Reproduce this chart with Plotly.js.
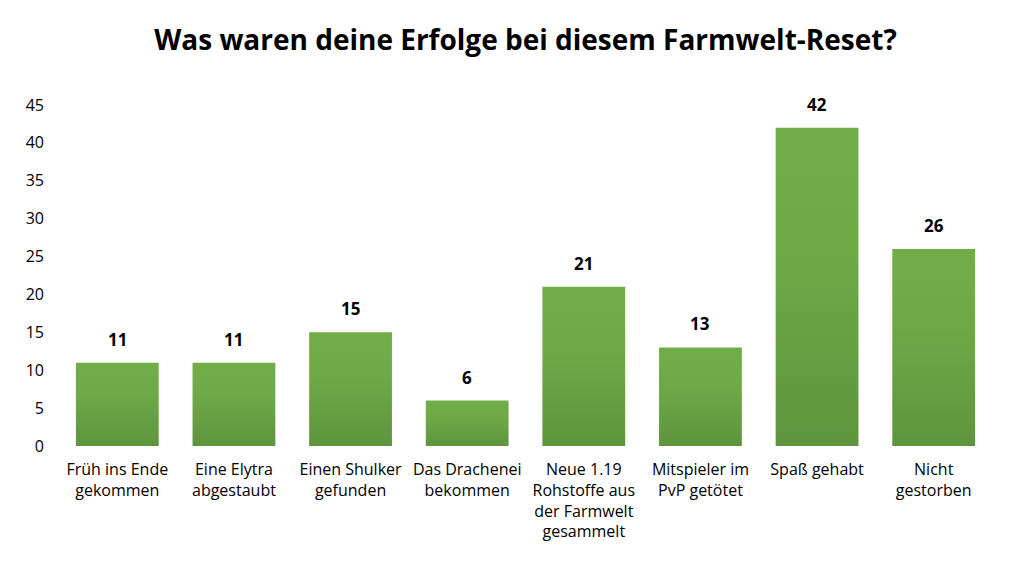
<!DOCTYPE html>
<html>
<head>
<meta charset="utf-8">
<script src="https://cdn.plot.ly/plotly-3.0.1.min.js"></script>
<style>html,body{margin:0;padding:0;background:#fff;}#chart{width:1016px;height:567px;}</style>
</head>
<body>
<div id="chart"></div>
<script>
const categories = [
  "Früh ins Ende<br>gekommen",
  "Eine Elytra<br>abgestaubt",
  "Einen Shulker<br>gefunden",
  "Das Drachenei<br>bekommen",
  "Neue 1.19<br>Rohstoffe aus<br>der Farmwelt<br>gesammelt",
  "Mitspieler im<br>PvP getötet",
  "Spaß gehabt",
  "Nicht<br>gestorben"
];
const values = [11, 11, 15, 6, 21, 13, 42, 26];
const yTicks = [0, 5, 10, 15, 20, 25, 30, 35, 40, 45];

const FONT = "Open Sans, Liberation Sans, sans-serif";

const trace = {
  type: "bar",
  x: categories,
  y: values,
  marker: {color: "#67A042", line: {width: 0}},
  hoverinfo: "skip"
};

const annotations = categories.map((c, i) => ({
  x: c, y: values[i], xref: "x", yref: "y",
  text: "<b>" + values[i] + "</b>",
  showarrow: false, yanchor: "bottom", yshift: 10,
  font: {family: FONT, size: 17, color: "#000"}
}));

const layout = {
  width: 1016, height: 567,
  paper_bgcolor: "#fff", plot_bgcolor: "#fff",
  margin: {l: 59, r: 24, t: 105, b: 121},
  bargap: 0.29,
  showlegend: false,
  title: {
    text: "<b>Was waren deine Erfolge bei diesem Farmwelt-Reset?</b>",
    font: {family: FONT, size: 28, color: "#000"},
    x: 0.5, xanchor: "center", xref: "paper",
    y: 1 - 40/567, yanchor: "middle", yref: "container"
  },
  xaxis: {
    showgrid: false, zeroline: false, showline: false, ticks: "",
    tickfont: {family: FONT, size: 16, color: "#000"},
    ticklabelstandoff: 12, tickangle: 0
  },
  yaxis: {
    range: [0, 45], tickvals: yTicks, ticktext: yTicks.map(String),
    showgrid: false, zeroline: false, showline: false, ticks: "",
    tickfont: {family: FONT, size: 16, color: "#000"},
    ticklabelstandoff: 14
  },
  annotations: annotations,
  font: {family: FONT}
};

Plotly.newPlot("chart", [trace], layout, {displayModeBar: false, staticPlot: true}).then(function(gd){
  const svg = gd.querySelector("svg.main-svg");
  const ns = "http://www.w3.org/2000/svg";
  let defs = svg.querySelector("defs");
  if (!defs) { defs = document.createElementNS(ns, "defs"); svg.insertBefore(defs, svg.firstChild); }
  const grad = document.createElementNS(ns, "linearGradient");
  grad.setAttribute("id", "barGrad");
  grad.setAttribute("x1", "0"); grad.setAttribute("y1", "0");
  grad.setAttribute("x2", "0"); grad.setAttribute("y2", "1");
  [["0", "#71AD47"], ["0.4", "#6EA946"], ["1", "#5E943E"]].forEach(function(s){
    const st = document.createElementNS(ns, "stop");
    st.setAttribute("offset", s[0]); st.setAttribute("stop-color", s[1]);
    grad.appendChild(st);
  });
  defs.appendChild(grad);
  gd.querySelectorAll(".barlayer .point path").forEach(function(p){
    p.style.fill = "url(#barGrad)";
  });
});
</script>
</body>
</html>
